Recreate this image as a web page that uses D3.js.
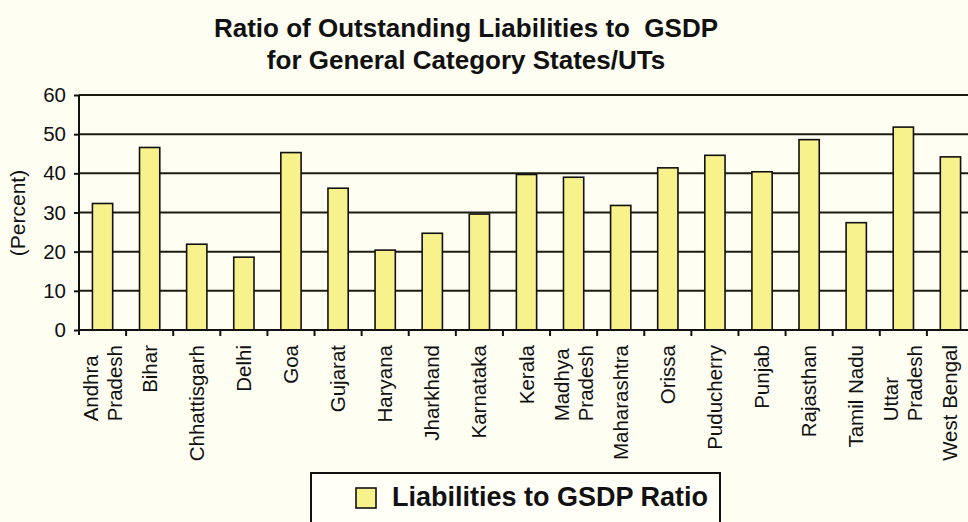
<!DOCTYPE html>
<html>
<head>
<meta charset="utf-8">
<script src="https://cdn.jsdelivr.net/npm/d3@7/dist/d3.min.js"></script>
<style>
  html, body { margin: 0; padding: 0; background: #fffef3; }
  svg { display: block; font-family: "Liberation Sans", Arial, sans-serif; }
</style>
</head>
<body>
<svg id="chart" width="968" height="522"></svg>
<script>
const categories = [
  ["Andhra", "Pradesh"], ["Bihar"], ["Chhattisgarh"], ["Delhi"], ["Goa"], ["Gujarat"],
  ["Haryana"], ["Jharkhand"], ["Karnataka"], ["Kerala"], ["Madhya", "Pradesh"],
  ["Maharashtra"], ["Orissa"], ["Puducherry"], ["Punjab"], ["Rajasthan"],
  ["Tamil Nadu"], ["Uttar", "Pradesh"], ["West Bengal"]
];
const ratioValues = [32.3, 46.6, 21.9, 18.6, 45.3, 36.2, 20.4, 24.7, 29.6, 39.7,
  39.0, 31.8, 41.4, 44.6, 40.4, 48.6, 27.4, 51.8, 44.2];
const yTicks = [0, 10, 20, 30, 40, 50, 60];
const titleLines = ["Ratio of Outstanding Liabilities to  GSDP", "for General Category States/UTs"];
const yLabel = "(Percent)";
const seriesName = "Liabilities to GSDP Ratio";

const svg = d3.select("#chart");
const keys = categories.map((c, i) => String(i));
const x = d3.scaleBand().domain(keys).range([79, 974]).paddingInner(0.57).paddingOuter(0.285);
const xb = d3.scaleBand().domain(keys).range([79, 974]);
const y = d3.scaleLinear().domain([0, 60]).range([330, 95]);

// title
svg.append("g").selectAll("text").data(titleLines).join("text")
  .attr("x", 466).attr("y", (d, i) => 37 + i * 32)
  .attr("text-anchor", "middle").attr("font-weight", "bold").attr("font-size", 26)
  .attr("fill", "#111").attr("xml:space", "preserve")
  .style("white-space", "pre")
  .text(d => d);

// gridlines
svg.append("g").selectAll("line").data(yTicks.filter(t => t > 0)).join("line")
  .attr("x1", 79).attr("x2", 968).attr("y1", d => y(d)).attr("y2", d => y(d))
  .attr("stroke", "#1c1c12").attr("stroke-width", 2);

// bars
svg.append("g").selectAll("rect").data(ratioValues).join("rect")
  .attr("x", (d, i) => x(String(i))).attr("width", x.bandwidth())
  .attr("y", d => y(d)).attr("height", d => y(0) - y(d))
  .attr("fill", "#f8f28c").attr("stroke", "#111").attr("stroke-width", 1.6);

// y axis
const yAxis = svg.append("g").attr("transform", "translate(79,0)")
  .call(d3.axisLeft(y).tickValues(yTicks).tickSize(5).tickPadding(8));
yAxis.select(".domain").attr("stroke", "#111").attr("stroke-width", 2)
  .attr("d", "M0," + y(60) + "V" + (y(0) + 5));
yAxis.selectAll(".tick line").attr("stroke", "#111").attr("stroke-width", 2);
yAxis.selectAll(".tick text").attr("font-size", 20.5).attr("fill", "#111")
  .attr("font-family", "Liberation Sans, Arial, sans-serif");

// x axis
const xAxis = svg.append("g").attr("transform", "translate(0,330)")
  .call(d3.axisBottom(xb).tickSize(0).tickFormat(""));
xAxis.select(".domain").attr("stroke", "#111").attr("stroke-width", 2)
  .attr("d", "M79,0H968");
svg.append("g").selectAll("line").data(keys.slice(1)).join("line")
  .attr("x1", d => xb(d)).attr("x2", d => xb(d)).attr("y1", 330).attr("y2", 336)
  .attr("stroke", "#111").attr("stroke-width", 2);

// x labels
const lab = svg.append("g").selectAll("g").data(categories).join("g")
  .attr("transform", (d, i) => `translate(${xb(String(i)) + xb.bandwidth() / 2},345) rotate(-90)`);
lab.each(function(lines) {
  const g = d3.select(this);
  const n = lines.length;
  const texts = lines.map((t, j) => g.append("text")
    .attr("font-size", 20.5).attr("fill", "#111")
    .attr("y", (j - (n - 1) / 2) * 24 + 7)
    .text(t));
  const L = d3.max(texts, t => t.node().getComputedTextLength());
  texts.forEach(t => t.attr("x", -L).attr("text-anchor", "start"));
});

// y label
svg.append("text").attr("transform", "translate(25,213) rotate(-90)")
  .attr("text-anchor", "middle").attr("font-size", 21).attr("fill", "#111").text(yLabel);

// legend
const lg = svg.append("g");
lg.append("rect").attr("x", 311).attr("y", 473).attr("width", 409).attr("height", 80)
  .attr("fill", "#fffff8").attr("stroke", "#111").attr("stroke-width", 2);
lg.append("rect").attr("x", 356).attr("y", 488).attr("width", 20).attr("height", 20)
  .attr("fill", "#f8f28c").attr("stroke", "#111").attr("stroke-width", 1.6);
lg.append("text").attr("x", 392).attr("y", 506).attr("font-size", 27).attr("font-weight", "bold")
  .attr("fill", "#111").text(seriesName);
</script>
</body>
</html>
